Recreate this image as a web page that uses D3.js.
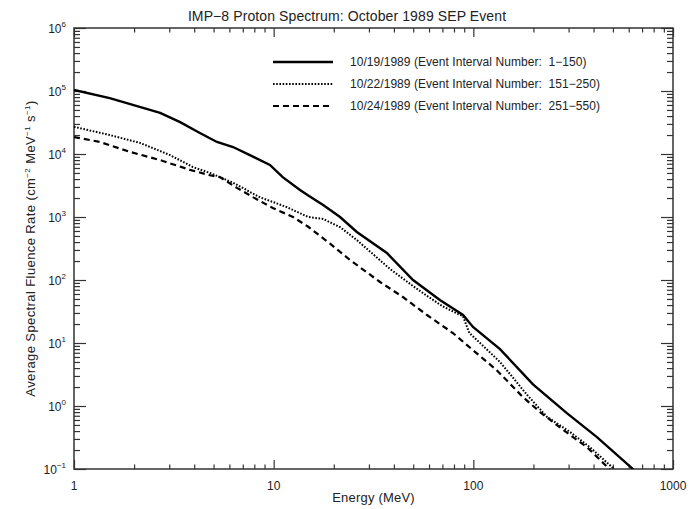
<!DOCTYPE html>
<html>
<head>
<meta charset="utf-8">
<script src="https://cdn.jsdelivr.net/npm/d3@7"></script>
<style>
	body { margin: 0; background: #fff; }
	svg text { font-family: "Liberation Sans", Arial, Helvetica, sans-serif; fill: #222; }
</style>
</head>
<body>
<svg id="chart" width="694" height="509"></svg>
<script>
// data (energy in MeV, fluence rate)
var energy19 = [1, 1.51, 2.70, 3.40, 4.27, 5.2, 6.26, 7.6, 9.58, 11.1, 13.5, 14.9, 17.7, 21.5, 26.1, 36.9, 49.9, 68, 88.8, 99.6, 136, 199, 294, 416, 630, 700];
var flux19   = [1.04e5, 7.7e4, 4.5e4, 3.2e4, 2.15e4, 1.55e4, 1.29e4, 9.6e3, 6.7e3, 4.3e3, 2.7e3, 2.2e3, 1.55e3, 1.0e3, 578, 268, 100, 48, 27.8, 18, 8.0, 2.2, 0.77, 0.32, 0.1, 0.065];

var energy22 = [1, 1.51, 2.14, 3.03, 3.94, 4.8, 5.38, 6.26, 8.5, 11.6, 14.9, 17.7, 21.5, 26.1, 38.2, 49.9, 58.6, 70.4, 88.8, 95.5, 104, 136, 186, 234, 304, 385, 500, 560];
var flux22   = [2.7e4, 2.0e4, 1.5e4, 9.6e3, 6.2e3, 5.0e3, 4.3e3, 3.5e3, 2.07e3, 1.44e3, 1.0e3, 930, 690, 431, 150, 80, 56, 38, 26.5, 14.4, 11.2, 5.0, 1.5, 0.67, 0.39, 0.22, 0.104, 0.07];

var energy24 = [1, 1.35, 1.91, 2.70, 3.81, 4.79, 5.38, 6.55, 7.87, 9.9, 12.5, 14.9, 19.1, 24.1, 34.1, 44.4, 58.6, 79, 99.6, 131, 177, 216, 281, 372, 480, 540];
var flux24   = [1.86e4, 1.55e4, 1.08e4, 8.0e3, 5.6e3, 4.6e3, 4.3e3, 2.9e3, 2.07e3, 1.39e3, 1.0e3, 700, 380, 208, 93, 53.7, 27.8, 14.4, 7.7, 3.7, 1.39, 0.80, 0.42, 0.22, 0.1, 0.07];

var seriesLabels = ["10/19/1989 (Event Interval Number:  1\u2212150)",
		"10/22/1989 (Event Interval Number:  151\u2212250)",
		"10/24/1989 (Event Interval Number:  251\u2212550)"];
var xTicks = [1, 10, 100, 1000];
var yExponents = [-1, 0, 1, 2, 3, 4, 5, 6];

var	svg	= d3.select("#chart"),
	pL	= 74, pR = 673, pT = 28, pB = 469,
	x	= d3.scaleLog().domain([1, 1000]).range([pL, pR]),
	y	= d3.scaleLog().domain([0.1, 1e6]).range([pB, pT]);

function minors(lo, hi) {
	var out = [];
	for (var d = lo; d < hi; d *= 10)
		for (var k = 2; k < 10; k++) out.push(d * k);
	return out;
}
var xMinor = minors(1, 1000), yMinor = minors(0.1, 1e6);

function tidy(g) {
	g.select(".domain").remove();
	g.selectAll(".tick line").attr("stroke", "#333").attr("stroke-width", 1.2);
	g.selectAll(".tick text").remove();
}

// ticks, all pointing into the plot
var xMaj = 9, xMin = 4.5, yMaj = 12, yMin = 6;
svg.append("g").attr("transform", "translate(0," + pB + ")")
	.call(d3.axisBottom(x).tickValues(xTicks).tickSize(-xMaj)).call(tidy);
svg.append("g").attr("transform", "translate(0," + pB + ")")
	.call(d3.axisBottom(x).tickValues(xMinor).tickSize(-xMin)).call(tidy);
svg.append("g").attr("transform", "translate(0," + pT + ")")
	.call(d3.axisTop(x).tickValues(xTicks).tickSize(-xMaj)).call(tidy);
svg.append("g").attr("transform", "translate(0," + pT + ")")
	.call(d3.axisTop(x).tickValues(xMinor).tickSize(-xMin)).call(tidy);
var yMajVals = yExponents.map(function(e) { return Math.pow(10, e); });
svg.append("g").attr("transform", "translate(" + pL + ",0)")
	.call(d3.axisLeft(y).tickValues(yMajVals).tickSize(-yMaj)).call(tidy);
svg.append("g").attr("transform", "translate(" + pL + ",0)")
	.call(d3.axisLeft(y).tickValues(yMinor).tickSize(-yMin)).call(tidy);
svg.append("g").attr("transform", "translate(" + pR + ",0)")
	.call(d3.axisRight(y).tickValues(yMajVals).tickSize(-yMaj)).call(tidy);
svg.append("g").attr("transform", "translate(" + pR + ",0)")
	.call(d3.axisRight(y).tickValues(yMinor).tickSize(-yMin)).call(tidy);

// frame
svg.append("rect").attr("x", pL).attr("y", pT)
	.attr("width", pR - pL).attr("height", pB - pT)
	.attr("fill", "none").attr("stroke", "#333").attr("stroke-width", 1.5);

// tick labels
svg.append("g").selectAll("text").data(xTicks).enter().append("text")
	.attr("x", function(d) { return x(d); }).attr("y", pB + 21)
	.attr("text-anchor", "middle").style("font-size", "12px")
	.text(function(d) { return d; });

var yl = svg.append("g").selectAll("text").data(yExponents).enter().append("text")
	.attr("x", pL - 8).attr("y", function(d) { return y(Math.pow(10, d)) + 5; })
	.attr("text-anchor", "end").style("font-size", "12px");
yl.append("tspan").text("10");
yl.append("tspan").attr("dy", -6).style("font-size", "8px")
	.text(function(d) { return d < 0 ? "\u2212" + (-d) : d; });

// titles
svg.append("text").attr("x", 347).attr("y", 21).attr("text-anchor", "middle")
	.style("font-size", "14px").style("letter-spacing", "0.1px")
	.text("IMP\u22128 Proton Spectrum: October 1989 SEP Event");
svg.append("text").attr("x", (pL + pR) / 2).attr("y", 502).attr("text-anchor", "middle")
	.style("font-size", "13px").style("letter-spacing", "0.2px").text("Energy (MeV)");

var ylab = svg.append("text").attr("transform", "translate(35," + ((pT + pB) / 2) + ") rotate(-90)")
	.attr("text-anchor", "middle").style("font-size", "13px").style("letter-spacing", "0.4px");
ylab.append("tspan").text("Average Spectral Fluence Rate (cm");
ylab.append("tspan").attr("dy", -5).style("font-size", "8px").text("\u22122");
ylab.append("tspan").attr("dy", 5).text(" MeV");
ylab.append("tspan").attr("dy", -5).style("font-size", "8px").text("\u22121");
ylab.append("tspan").attr("dy", 5).text(" s");
ylab.append("tspan").attr("dy", -5).style("font-size", "8px").text("\u22121");
ylab.append("tspan").attr("dy", 5).text(")");

// curves
svg.append("clipPath").attr("id", "plot").append("rect")
	.attr("x", pL).attr("y", pT).attr("width", pR - pL).attr("height", pB - pT);

var styles = [
	{ w: 2.4, dash: null },
	{ w: 2, dash: "1.6,1.6" },
	{ w: 2.2, dash: "6,4" }
];
var series = [
	d3.zip(energy19, flux19),
	d3.zip(energy22, flux22),
	d3.zip(energy24, flux24)
];
var line = d3.line().x(function(d) { return x(d[0]); }).y(function(d) { return y(d[1]); });

svg.append("g").attr("clip-path", "url(#plot)").selectAll("path").data(series).enter().append("path")
	.attr("d", line).attr("fill", "none").attr("stroke", "#000")
	.attr("stroke-width", function(d, i) { return styles[i].w; })
	.attr("stroke-dasharray", function(d, i) { return styles[i].dash; });

// legend
var lg = svg.append("g").selectAll("g").data(seriesLabels).enter().append("g")
	.attr("transform", function(d, i) { return "translate(273," + (62 + i * 22) + ")"; });
lg.append("line").attr("x1", 0).attr("x2", 60).attr("stroke", "#000")
	.attr("stroke-width", function(d, i) { return styles[i].w; })
	.attr("stroke-dasharray", function(d, i) { return styles[i].dash; });
lg.append("text").attr("x", 77).attr("y", 4).style("font-size", "12px")
	.style("letter-spacing", "0.05px").style("white-space", "pre")
	.text(function(d) { return d; });
</script>
</body>
</html>
